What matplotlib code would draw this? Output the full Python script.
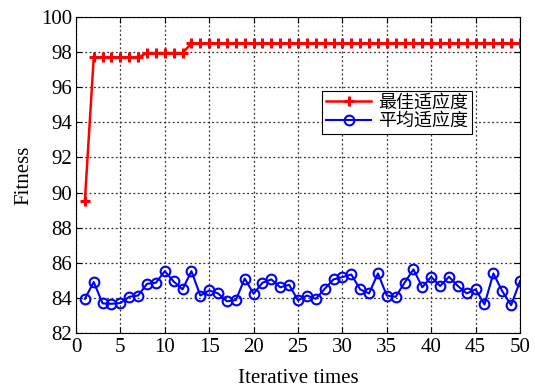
import matplotlib.pyplot as plt

plt.rcParams['font.family'] = ['Liberation Serif', 'Noto Sans CJK SC']

# iterations
iterations = list(range(1, 51))

# best fitness per iteration
best_fitness = [89.5] + [97.7] * 6 + [97.95] * 5 + [98.5] * 38

# average fitness per iteration
avg_fitness = [83.94, 84.90, 83.68, 83.66, 83.70, 84.06, 84.13, 84.80, 84.86, 85.52,
               84.93, 84.48, 85.52, 84.13, 84.42, 84.25, 83.80, 83.87, 85.10, 84.23,
               84.86, 85.05, 84.60, 84.74, 83.85, 84.13, 83.94, 84.51, 85.05, 85.18,
               85.33, 84.48, 84.25, 85.39, 84.13, 84.06, 84.86, 85.62, 84.60, 85.20,
               84.67, 85.20, 84.67, 84.25, 84.48, 83.62, 85.39, 84.38, 83.58, 84.95]

fig = plt.figure(figsize=(5.35, 3.88), dpi=100)
ax = fig.add_axes([0.142, 0.142, 0.830, 0.814])

ax.plot(iterations, best_fitness, color='red', linewidth=1.8, marker='+',
        markersize=7, markeredgewidth=2.2, label='最佳适应度')
ax.plot(iterations, avg_fitness, color='blue', linewidth=1.5, marker='o',
        markersize=7, markerfacecolor='none', markeredgewidth=1.5, label='平均适应度')

ax.set_xlim(0, 50)
ax.set_ylim(82, 100)
ax.set_xticks(range(0, 51, 5))
ax.set_yticks(range(82, 101, 2))
ax.tick_params(direction='in', labelsize=15, top=True, right=True, length=4)
ax.tick_params(axis='x', pad=4)
ax.tick_params(axis='y', pad=3)
ax.grid(True, linestyle=(0, (1.5, 2)), color='#333333', linewidth=0.9)

ax.set_xlabel('Iterative times', fontsize=15, labelpad=8)
ax.set_ylabel('Fitness', fontsize=15, labelpad=5)

leg = ax.legend(loc='upper left', bbox_to_anchor=(0.555, 0.767), fancybox=False,
                edgecolor='black', framealpha=1, fontsize=13, borderpad=0.2,
                labelspacing=0.1, handlelength=2.5, handletextpad=0.4,
                borderaxespad=0)
leg.get_frame().set_linewidth(0.8)

fig.savefig('out.png', dpi=100)
